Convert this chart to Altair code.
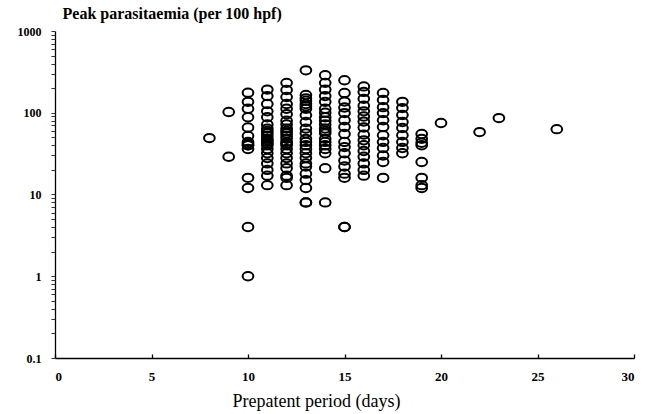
import altair as alt
import pandas as pd

# Peak parasitaemia (per 100 hpf) observed for each prepatent period (days)
peak_d8 = [49]
peak_d9 = [102, 29]
peak_d10 = [176, 136, 112, 88, 66, 52, 44, 42, 40, 40, 36, 16, 12, 4, 1]
peak_d11 = [192, 160, 128, 104, 88, 72, 64, 60, 56, 52, 48, 46, 44, 42, 40, 36, 32, 28, 24, 20, 17, 13]
peak_d12 = [232, 190, 156, 128, 112, 96, 80, 72, 64, 60, 56, 52, 48, 44, 42, 40, 36, 32, 28, 24, 21, 17, 16, 13]
peak_d13 = [330, 165, 150, 140, 128, 120, 112, 93, 77, 64, 56, 48, 44, 40, 36, 32, 28, 24, 22, 18, 15, 12, 8, 8]
peak_d14 = [288, 232, 192, 160, 136, 112, 100, 88, 80, 72, 64, 60, 56, 48, 44, 40, 36, 32, 21, 8]
peak_d15 = [250, 175, 137, 116, 99, 81, 67, 55, 44, 38, 32, 26, 22, 18, 16, 4, 4]
peak_d16 = [210, 180, 148, 122, 104, 90, 78, 66, 54, 46, 40, 34, 29, 24, 20, 17]
peak_d17 = [175, 143, 117, 99, 81, 67, 53, 44, 37, 30, 25, 16]
peak_d18 = [136, 114, 94, 77, 65, 53, 44, 37, 32]
peak_d19 = [55, 48, 43, 40, 25, 16, 13, 12]
peak_d20 = [75]
peak_d22 = [58]
peak_d23 = [86]
peak_d26 = [63]

columns = {
    8: peak_d8, 9: peak_d9, 10: peak_d10, 11: peak_d11, 12: peak_d12,
    13: peak_d13, 14: peak_d14, 15: peak_d15, 16: peak_d16, 17: peak_d17,
    18: peak_d18, 19: peak_d19, 20: peak_d20, 22: peak_d22, 23: peak_d23,
    26: peak_d26,
}

x_ticks = [0, 5, 10, 15, 20, 25, 30]
y_labels = [0.1, 1, 10, 100, 1000]
y_minor = [0.1, 0.2, 0.3, 0.4, 0.5, 0.6, 0.7, 0.8, 0.9,
           1, 2, 3, 4, 5, 6, 7, 8, 9,
           10, 20, 30, 40, 50, 60, 70, 80, 90,
           100, 200, 300, 400, 500, 600, 700, 800, 900, 1000]

rows = []
for day, vals in columns.items():
    for v in vals:
        rows.append({"day": day, "peak": v})
df = pd.DataFrame(rows)

W, H = 579, 327
FONT = "Liberation Serif"

xscale = alt.Scale(domain=[0, 30], nice=False)
yscale = alt.Scale(type="log", domain=[0.1, 1000], nice=False)

ellipse = "M -1 0 A 1 0.78 0 1 0 1 0 A 1 0.78 0 1 0 -1 0 Z"

points = alt.Chart(df).mark_point(
    shape=ellipse, filled=False, size=115, stroke="black", strokeWidth=2, opacity=1
).encode(
    x=alt.X("day:Q", scale=xscale, axis=alt.Axis(
        values=x_ticks, ticks=False, grid=False, labelPadding=12,
        labelFont=FONT, labelFontSize=13, labelFontWeight="bold", labelColor="black",
        domainColor="black", domainWidth=1.3,
        title="Prepatent period (days)", titleFont=FONT, titleFontSize=18,
        titleFontWeight="normal", titleColor="black",
        titleX=261, titleY=48, titleAlign="center", titleBaseline="alphabetic",
    )),
    y=alt.Y("peak:Q", scale=yscale, axis=alt.Axis(
        values=y_labels, format="~g", ticks=False,
        grid=False, labelPadding=14,
        labelFont=FONT, labelFontSize=12, labelFontWeight="bold", labelColor="black",
        domainColor="black", domainWidth=1.3,
        title="Peak parasitaemia (per 100 hpf)", titleFont=FONT, titleFontSize=16,
        titleFontWeight="bold", titleColor="black", titleAngle=0,
        titleAlign="left", titleBaseline="alphabetic", titleX=7, titleY=-13,
    )),
)

# Tick-only axes: upward ticks on the x axis, minor log ticks on the y axis
xticks = alt.Chart(df).mark_point(opacity=0).encode(
    x=alt.X("day:Q", scale=xscale, axis=alt.Axis(
        values=x_ticks, labels=False, domain=False, grid=False, title=None,
        ticks=True, tickSize=4, tickWidth=1.3, tickColor="black", orient="top", offset=-H,
    )),
)

yticks = alt.Chart(df).mark_point(opacity=0).encode(
    y=alt.Y("peak:Q", scale=yscale, axis=alt.Axis(
        values=y_minor, labels=False, domain=False, grid=False, title=None,
        ticks=True, tickSize=4, tickWidth=1, tickColor="#333333", orient="left",
    )),
)

chart = alt.layer(points, xticks, yticks).resolve_axis(x="independent", y="independent").properties(
    width=W, height=H,
    autosize=alt.AutoSizeParams(type="none"),
    padding={"left": 55, "top": 31, "right": 16, "bottom": 56},
    background="white",
).configure_view(stroke=None)

chart.save("out.html", embed_options={"renderer": "svg", "actions": False})
